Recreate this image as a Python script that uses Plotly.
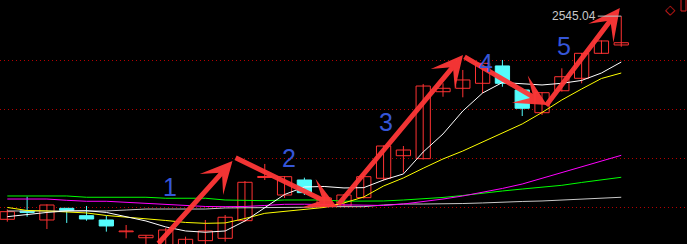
import plotly.graph_objects as go

# ---- data ----
idx = list(range(32))
opens = [2337.7, 2346.2, 2337.0, 2348.9, 2341.4, 2337.0, 2325.0, 2318.9, 2304.4, 2310.5,
         2315.9, 2318.3, 2336.3, 2380.4, 2362.5, 2377.8, 2352.3, 2351.3, 2359.8, 2379.6,
         2402.6, 2399.6, 2467.9, 2471.4, 2476.5, 2494.2, 2469.7, 2446.5, 2468.9, 2481.6,
         2507.1, 2515.6]
highs = [2347.9, 2360.8, 2353.0, 2349.3, 2351.3, 2341.4, 2331.9, 2321.4, 2328.8, 2320.0,
         2337.0, 2342.1, 2376.8, 2394.2, 2381.9, 2380.2, 2364.6, 2363.5, 2384.0, 2413.0,
         2412.5, 2475.8, 2476.5, 2490.1, 2497.7, 2500.3, 2471.7, 2467.5, 2491.8, 2507.4,
         2520.2, 2545.04]
lows = [2335.3, 2340.4, 2327.8, 2334.0, 2336.3, 2325.1, 2318.3, 2310.5, 2302.3, 2308.4,
        2312.5, 2314.9, 2335.0, 2377.8, 2359.5, 2362.5, 2350.3, 2350.3, 2359.0, 2377.1,
        2385.3, 2398.7, 2462.8, 2462.2, 2466.3, 2473.0, 2443.1, 2444.2, 2468.1, 2476.5,
        2506.4, 2513.8]
closes = [2345.5, 2344.7, 2352.3, 2346.7, 2338.0, 2330.9, 2325.8, 2321.4, 2326.8, 2317.3,
          2325.8, 2339.8, 2375.5, 2381.4, 2381.2, 2364.9, 2359.5, 2362.5, 2381.2, 2412.5,
          2408.4, 2473.7, 2471.4, 2479.9, 2496.9, 2476.5, 2451.0, 2466.9, 2483.2, 2507.1,
          2519.7, 2517.9]

ma_white = [2340.4, 2342.6, 2344.7, 2346.2, 2346.5, 2344.7, 2340.4, 2336.0, 2329.9, 2325.8,
            2324.5, 2325.8, 2336.0, 2349.8, 2363.0, 2370.7, 2371.2, 2369.7, 2370.0, 2377.8,
            2384.0, 2406.4, 2424.8, 2448.2, 2466.6, 2477.3, 2475.8, 2474.8, 2476.5, 2479.4,
            2487.0, 2498.2]
ma_yellow = [2349.8, 2346.7, 2346.2, 2345.2, 2344.2, 2341.6, 2340.1, 2338.5, 2336.5, 2334.5,
             2333.6, 2334.0, 2338.5, 2343.8, 2345.9, 2347.7, 2349.8, 2354.4, 2360.5, 2371.7,
             2379.9, 2389.8, 2399.3, 2407.4, 2416.6, 2425.3, 2435.0, 2446.7, 2459.5, 2470.7,
             2481.4, 2487.0]
ma_magenta = [2358.4, 2358.4, 2358.4, 2357.1, 2356.1, 2356.1, 2355.1, 2354.1, 2353.0, 2352.0,
              2350.8, 2350.6, 2350.8, 2351.8, 2353.0, 2353.1, 2352.8, 2352.1, 2351.8, 2351.8,
              2353.3, 2355.7, 2358.4, 2361.5, 2365.1, 2369.2, 2373.7, 2379.4, 2385.7, 2391.3,
              2397.0, 2403.0]
ma_green = [2361.5, 2361.5, 2361.5, 2361.5, 2360.2, 2360.2, 2360.2, 2360.2, 2359.2, 2359.2,
            2359.2, 2357.4, 2356.9, 2356.7, 2357.4, 2357.4, 2357.4, 2356.2, 2356.1, 2356.4,
            2357.4, 2358.4, 2360.0, 2362.0, 2364.6, 2366.6, 2368.6, 2370.7, 2372.4, 2375.3,
            2377.8, 2380.6]
ma_gray = [2346.2, 2346.2, 2346.2, 2346.2, 2346.2, 2346.2, 2347.2, 2348.2, 2348.2, 2348.2,
           2348.2, 2349.3, 2349.3, 2350.0, 2350.0, 2350.0, 2350.6, 2350.6, 2350.6, 2352.3,
           2353.3, 2353.3, 2353.3, 2353.8, 2354.4, 2355.4, 2355.9, 2356.4, 2357.4, 2358.1,
           2359.2, 2360.2]

grid_levels = [2350, 2400, 2450, 2500]

# arrows: (tail_x, tail_y, head_x, head_y) in data units
arrow_tail_x = [7.56, 11.45, 16.65, 23.01, 27.15]
arrow_tail_y = [2311.5, 2401.3, 2351.3, 2504.4, 2452.3]
arrow_head_x = [11.37, 16.65, 23.01, 27.25, 30.93]
arrow_head_y = [2397.2, 2350.3, 2505.4, 2454.4, 2553.3]

wave_labels = ["1", "2", "3", "4", "5"]
wave_x = [8.21, 14.22, 19.12, 24.19, 28.13]
wave_y = [2370.7, 2400.3, 2436.5, 2497.7, 2514.6]

high_label = "2545.04"

RED = "#ff3232"
CYAN = "#54fcfc"

fig = go.Figure()

# wicks
for up, col in ((True, RED), (False, CYAN)):
    xs, ys = [], []
    for i, o, h, l, c in zip(idx, opens, highs, lows, closes):
        if (c >= o) == up:
            xs += [i, i, None]
            ys += [l, h, None]
    fig.add_trace(go.Scatter(x=xs, y=ys, mode="lines", line=dict(color=col, width=1),
                             hoverinfo="skip"))

# bodies
for up, col, fill in ((True, RED, "#000000"), (False, CYAN, CYAN)):
    bx, bbase, bh = [], [], []
    for i, o, c in zip(idx, opens, closes):
        if (c >= o) == up:
            bx.append(i)
            bbase.append(min(o, c))
            bh.append(max(abs(c - o), 0.4))
    fig.add_trace(go.Bar(x=bx, y=bh, base=bbase, width=0.72,
                         marker=dict(color=fill, line=dict(color=col, width=1))))

# moving averages
for vals, col in ((ma_gray, "#c8c8c8"), (ma_green, "#00ff00"), (ma_magenta, "#ff00ff"),
                  (ma_yellow, "#ffff00"), (ma_white, "#ffffff")):
    fig.add_trace(go.Scatter(x=idx, y=vals, mode="lines", line=dict(color=col, width=1)))

annotations = []
for tx, ty, hx, hy in zip(arrow_tail_x, arrow_tail_y, arrow_head_x, arrow_head_y):
    annotations.append(dict(x=hx, y=hy, ax=tx, ay=ty, xref="x", yref="y", axref="x", ayref="y",
                            showarrow=True, arrowhead=3, arrowsize=1.05, arrowwidth=5,
                            arrowcolor="rgba(255,55,55,0.95)", text=""))
for t, x, y in zip(wave_labels, wave_x, wave_y):
    annotations.append(dict(x=x, y=y, xref="x", yref="y", text=t, showarrow=False,
                            font=dict(family="Liberation Sans, Arial", size=25, color="#3556d8")))
annotations.append(dict(x=idx[-1], y=highs[-1], xref="x", yref="y", text=high_label,
                        showarrow=True, arrowhead=0, arrowwidth=1, arrowcolor="#c0c0c0",
                        ax=-47, ay=0, standoff=0,
                        font=dict(family="Liberation Sans, Arial", size=12, color="#c8c8c8")))
annotations.append(dict(x=670 / 687, y=1.0, xref="paper", yref="paper", text="◇",
                        showarrow=False, yanchor="top", xanchor="center",
                        font=dict(family="DejaVu Sans", size=13, color="#e02020")))

fig.update_layout(
    width=687, height=244,
    margin=dict(l=0, r=0, t=0, b=0),
    paper_bgcolor="#000000", plot_bgcolor="#000000",
    showlegend=False, barmode="overlay",
    xaxis=dict(range=[-0.369, 34.32], showgrid=False, zeroline=False, showticklabels=False,
               visible=False),
    yaxis=dict(range=[2312.5, 2561.5], tickvals=grid_levels, showticklabels=False,
               showgrid=True, gridcolor="#b40000", gridwidth=1, griddash="1px,3px",
               zeroline=False),
    annotations=annotations,
    shapes=[dict(type="rect", xref="paper", yref="paper", x0=681 / 687, x1=686 / 687,
                 y0=1 - 11 / 244, y1=1.02, line=dict(color="#e02020", width=1))],
)

fig.write_html("out.html")
